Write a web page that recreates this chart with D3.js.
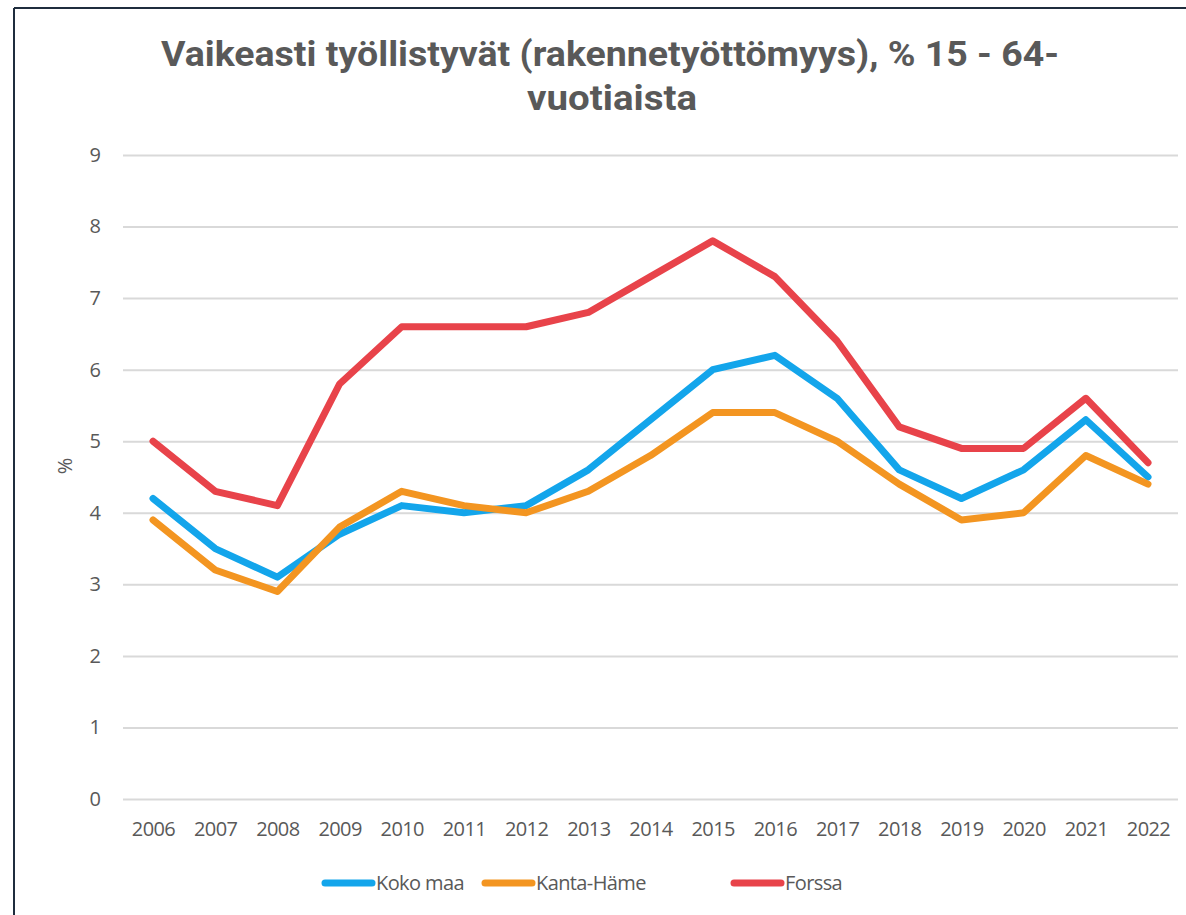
<!DOCTYPE html>
<html>
<head>
<meta charset="utf-8">
<script src="https://cdn.jsdelivr.net/npm/d3@7"></script>
<style>
  body { margin: 0; background: #fff; }
  text { fill: #595959; }
</style>
</head>
<body>
<script>
var width = 1186, height = 915;

// data
const years = [2006, 2007, 2008, 2009, 2010, 2011, 2012, 2013, 2014, 2015, 2016, 2017, 2018, 2019, 2020, 2021, 2022];
const kokoMaa   = [4.2, 3.5, 3.1, 3.7, 4.1, 4.0, 4.1, 4.6, 5.3, 6.0, 6.2, 5.6, 4.6, 4.2, 4.6, 5.3, 4.5];
const kantaHame = [3.9, 3.2, 2.9, 3.8, 4.3, 4.1, 4.0, 4.3, 4.8, 5.4, 5.4, 5.0, 4.4, 3.9, 4.0, 4.8, 4.4];
const forssa    = [5.0, 4.3, 4.1, 5.8, 6.6, 6.6, 6.6, 6.8, 7.3, 7.8, 7.3, 6.4, 5.2, 4.9, 4.9, 5.6, 4.7];
const seriesNames = ['Koko maa', 'Kanta-Häme', 'Forssa'];
const seriesColors = ['#13a5eb', '#f39521', '#e8434a'];
const yTicks = [0, 1, 2, 3, 4, 5, 6, 7, 8, 9];

const series = [kokoMaa, kantaHame, forssa].map((vals, i) => ({
  name: seriesNames[i], color: seriesColors[i],
  values: vals.map((v, j) => ({ year: years[j], value: v }))
}));

var svg = d3.select("body").append("svg")
  .attr("width", width)
  .attr("height", height);

// frame lines (top and left)
svg.append('line').attr('x1', 14).attr('x2', width).attr('y1', 8).attr('y2', 8)
  .style('stroke', '#1f2d3d').style('stroke-width', 2);
svg.append('line').attr('x1', 14).attr('x2', 14).attr('y1', 8).attr('y2', height)
  .style('stroke', '#1f2d3d').style('stroke-width', 2);

const margin = { left: 123, right: 1178, top: 155, bottom: 799 };
const tickFont = '"Open Sans", sans-serif';

let x = d3.scalePoint()
  .domain(years)
  .range([153, 1148]);

let y = d3.scaleLinear()
  .domain([0, 9])
  .range([margin.bottom, margin.top]);

// gridlines
let yAxis = d3.axisLeft(y)
  .tickValues(yTicks)
  .tickSize(-(margin.right - margin.left))
  .tickPadding(22)
  .tickFormat(d3.format('d'));

let gy = svg.append('g')
  .attr('transform', `translate(${margin.left},0)`)
  .call(yAxis);
gy.select('.domain').remove();
gy.selectAll('.tick line').style('stroke', '#d9d9d9').style('stroke-width', 2);
gy.selectAll('.tick text')
  .style('font-family', tickFont)
  .style('font-size', '20px')
  .style('fill', '#595959');

let xAxis = d3.axisBottom(x)
  .tickSize(0)
  .tickPadding(23);

let gx = svg.append('g')
  .attr('transform', `translate(0,${margin.bottom})`)
  .call(xAxis);
gx.select('.domain').remove();
gx.selectAll('.tick text')
  .style('font-family', tickFont)
  .style('font-size', '20px')
  .style('letter-spacing', '-0.6px')
  .style('fill', '#595959');

// lines
let line = d3.line()
  .x(d => x(d.year))
  .y(d => y(d.value));

svg.selectAll('path.series')
  .data(series)
  .enter()
  .append('path')
  .attr('class', 'series')
  .attr('d', d => line(d.values))
  .style('fill', 'none')
  .style('stroke', d => d.color)
  .style('stroke-width', 7)
  .style('stroke-linecap', 'round')
  .style('stroke-linejoin', 'round');

// title
svg.append('text')
  .attr('x', 610).attr('y', 66)
  .attr('text-anchor', 'middle')
  .attr('textLength', 898)
  .attr('lengthAdjust', 'spacingAndGlyphs')
  .style('font-family', 'Roboto, sans-serif')
  .style('font-weight', 'bold')
  .style('font-size', '35px')
  .style('fill', '#595959')
  .text('Vaikeasti työllistyvät (rakennetyöttömyys), % 15 - 64-');

svg.append('text')
  .attr('x', 612).attr('y', 110)
  .attr('text-anchor', 'middle')
  .attr('textLength', 170)
  .attr('lengthAdjust', 'spacingAndGlyphs')
  .style('font-family', 'Roboto, sans-serif')
  .style('font-weight', 'bold')
  .style('font-size', '35px')
  .style('fill', '#595959')
  .text('vuotiaista');

// y axis title
svg.append('text')
  .attr('transform', 'translate(72,466) rotate(-90)')
  .attr('text-anchor', 'middle')
  .style('font-family', tickFont)
  .style('font-size', '20px')
  .style('fill', '#595959')
  .text('%');

// legend
const legendX = [325, 485, 734];
let legend = svg.selectAll('g.legend')
  .data(series)
  .enter()
  .append('g')
  .attr('class', 'legend')
  .attr('transform', (d, i) => `translate(${legendX[i]},883)`);

legend.append('line')
  .attr('x1', 0).attr('x2', 47)
  .style('stroke', d => d.color)
  .style('stroke-width', 7)
  .style('stroke-linecap', 'round');

legend.append('text')
  .attr('x', 51).attr('y', 7)
  .style('font-family', tickFont)
  .style('font-size', '20px')
  .style('letter-spacing', '-0.6px')
  .style('fill', '#595959')
  .text(d => d.name);
</script>
</body>
</html>
